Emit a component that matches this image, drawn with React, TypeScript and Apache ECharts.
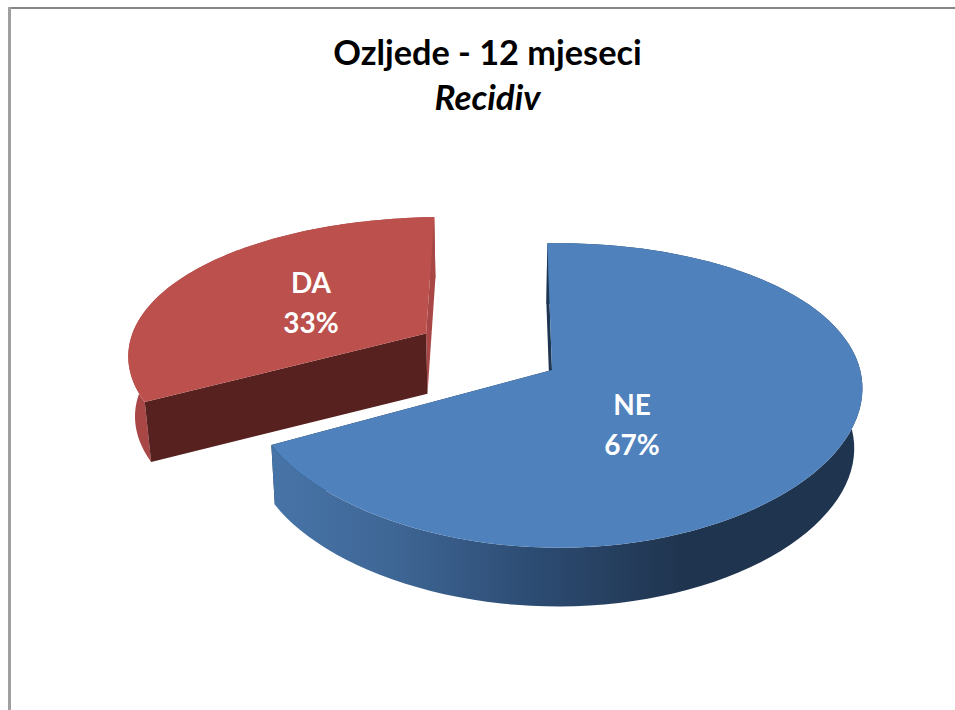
import React, { useEffect, useRef } from "react";
import * as echarts from "echarts";

const titleText = "Ozljede - 12 mjeseci";
const subtitleText = "Recidiv";
const categories = ["NE", "DA"];
const shares = [67.4, 32.6];

const FONT = "Lato, Carlito, 'Open Sans', sans-serif";
const START_DEG = -1;
const PERSP_YY = 0.167;
const PERSP_XY = 0.12;
const PERSP_X = -0.02;
const TOP_PLANE = { cx: 552, cy: 370, bx: 302, by: 148, pull: 4 };
const BOTTOM_PLANE = { cx: 551, cy: 430, bx: 295, by: 147, pull: 6 };
const EXPLODE = [
  [0, 0],
  [-0.43, 0.26],
];
const RADIUS_X = [1, 1.03];
const LABEL_POS = [
  [632, 424],
  [311, 302],
];
const TOP_COLORS = ["#4F81BD", "#BC504D"];
const CUT_COLORS = ["#1D3550", "#56211F"];
const SLIVER_COLORS = ["#1D3550", "#A84745"];
const WALL_FILLS: any[] = [
  {
    type: "linear",
    x: 0,
    y: 0,
    x2: 1,
    y2: 0,
    colorStops: [
      { offset: 0, color: "#4774A8" },
      { offset: 0.2, color: "#3F6796" },
      { offset: 0.42, color: "#2E4E76" },
      { offset: 0.7, color: "#1F344E" },
      { offset: 1, color: "#1F344E" },
    ],
  },
  "#A84745",
];

type Plane = typeof TOP_PLANE;

function project(px: number, py: number, plane: Plane): number[] {
  const dx = 1 + PERSP_XY * py + PERSP_X * px;
  const dy = 1 + PERSP_YY * py + PERSP_X * px;
  const u = Math.min(1, Math.max(0, -px) / 0.85);
  return [plane.cx + (plane.bx * px) / dx - plane.pull * u * u, plane.cy - (plane.by * py) / dy];
}

function arcPoints(a0: number, a1: number, off: number[], rx: number, plane: Plane): number[][] {
  const pts: number[][] = [];
  const n = 96;
  for (let i = 0; i <= n; i++) {
    const t = ((a0 + ((a1 - a0) * i) / n) * Math.PI) / 180;
    pts.push(project(off[0] + rx * Math.sin(t), off[1] + Math.cos(t), plane));
  }
  return pts;
}

const total = shares.reduce((a, b) => a + b, 0);

function renderSlice(params: any, api: any) {
  const i = params.dataIndex;
  const value = api.value(0);
  let before = 0;
  for (let k = 0; k < i; k++) before += shares[k];
  const a0 = START_DEG + (before / total) * 360;
  const a1 = a0 + (value / total) * 360;
  const off = EXPLODE[i];
  const topArc = arcPoints(a0, a1, off, RADIUS_X[i], TOP_PLANE);
  const botArc = arcPoints(a0, a1, off, RADIUS_X[i], BOTTOM_PLANE);
  const topApex = project(off[0], off[1], TOP_PLANE);
  const botApex = project(off[0], off[1], BOTTOM_PLANE);
  const pct = Math.round((value / total) * 100);
  const poly = (points: number[][], fill: any) => ({
    type: "polygon",
    shape: { points },
    style: { fill },
    silent: true,
  });
  return {
    type: "group",
    children: [
      poly([topArc[topArc.length - 1], topApex, botApex, botArc[botArc.length - 1]], SLIVER_COLORS[i]),
      poly([...topArc, ...botArc.slice().reverse()], WALL_FILLS[i]),
      poly([topArc[0], topApex, botApex, botArc[0]], CUT_COLORS[i]),
      poly([topApex, ...topArc], TOP_COLORS[i]),
      {
        type: "text",
        x: LABEL_POS[i][0],
        y: LABEL_POS[i][1],
        style: {
          text: `${categories[i]}\n${pct}%`,
          fill: "#FFFFFF",
          font: `bold 28px ${FONT}`,
          lineHeight: 40,
          align: "center",
          verticalAlign: "middle",
        },
        silent: true,
      },
    ],
  };
}

export default function App() {
  const ref = useRef<HTMLDivElement>(null);
  useEffect(() => {
    document.body.style.margin = "0";
    const chart = echarts.init(ref.current!, null, { renderer: "svg" });
    chart.setOption({
      animation: false,
      backgroundColor: "#FFFFFF",
      graphic: [
        { type: "rect", shape: { x: 8, y: 7, width: 947, height: 2 }, style: { fill: "#868686" }, silent: true },
        { type: "rect", shape: { x: 8, y: 7, width: 3, height: 703 }, style: { fill: "#A0A0A0" }, silent: true },
      ],
      title: {
        text: titleText,
        subtext: subtitleText,
        left: 482.5,
        top: 29,
        textAlign: "center",
        itemGap: 10,
        textStyle: { fontFamily: FONT, fontWeight: "bold", fontSize: 34.3, color: "#000000" },
        subtextStyle: { fontFamily: FONT, fontWeight: "bold", fontStyle: "italic", fontSize: 35, color: "#000000" },
      },
      series: [
        {
          type: "custom",
          coordinateSystem: "none",
          data: shares.map((v, i) => ({ name: categories[i], value: [v] })),
          renderItem: renderSlice,
        },
      ],
    });
    return () => chart.dispose();
  }, []);
  return <div ref={ref} style={{ position: "fixed", left: 0, top: 0, width: 955, height: 710 }} />;
}
